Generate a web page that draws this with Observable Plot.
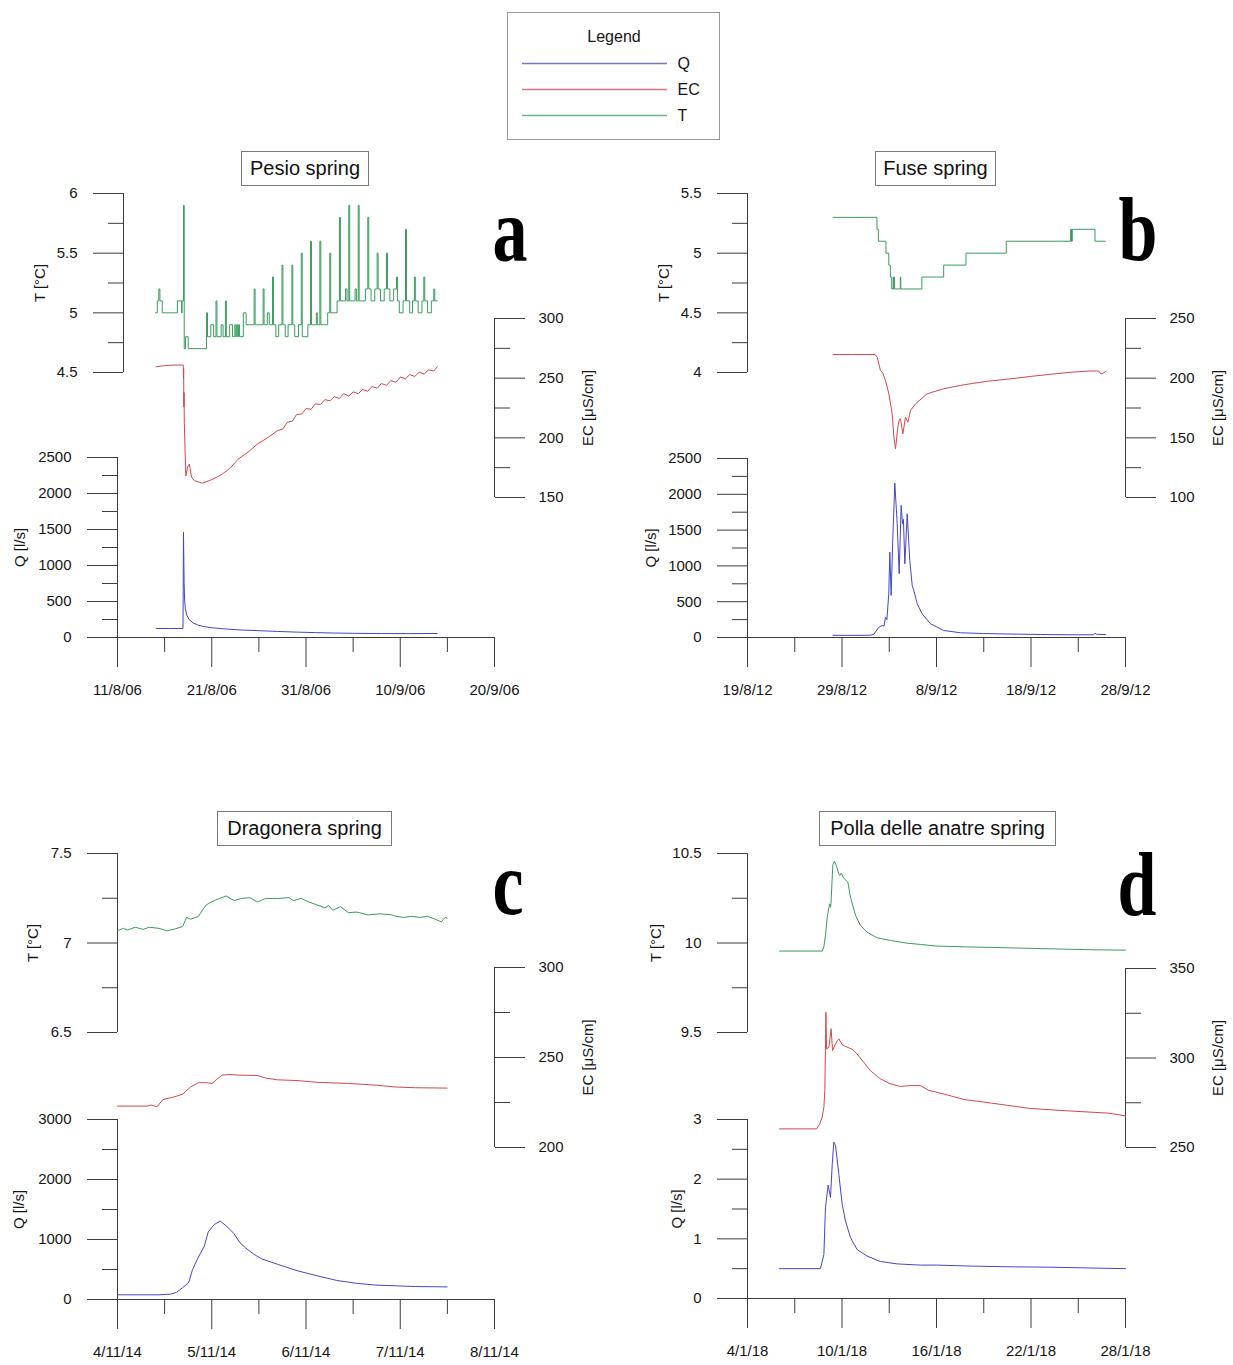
<!DOCTYPE html>
<html>
<head>
<meta charset="utf-8">
<script src="https://cdn.jsdelivr.net/npm/d3@7"></script>
<script src="https://cdn.jsdelivr.net/npm/@observablehq/plot@0.6"></script>
<style>
  body { margin: 0; background: #fff; font-family: "Liberation Sans", Arial, sans-serif; }
  #page { position: relative; width: 1233px; height: 1365px; overflow: hidden; background: #fff; }
  #page > svg { position: absolute; left: 0; top: 0; background: none; overflow: visible; pointer-events: none; }
  .title { position: absolute; box-sizing: border-box; border: 1px solid #7a7a7a; height: 35px;
           font-size: 20px; line-height: 33px; text-align: center; color: #111; white-space: nowrap; }
  .letter { position: absolute; width: 80px; text-align: center; color: #000;
            font: bold 70px/70px "Liberation Serif", "DejaVu Serif", serif;
            transform: scaleY(1.3); transform-origin: 50% 58.6px; }
  #legend { position: absolute; left: 507px; top: 12px; width: 213px; height: 128px;
            box-sizing: border-box; border: 1px solid #9a9a9a; background: #fff; z-index: 5; }
  #legend svg { display: block; background: none; }
</style>
</head>
<body>
<div id="page"></div>
<script>
// ---------------- DATA ----------------
// series: [days since first x tick, value]
const legendKeys = ["Q", "EC", "T"];

// a) Pesio spring
const pesioTicks = ["11/8/06", "21/8/06", "31/8/06", "10/9/06", "20/9/06"];
const pesioT = [[4.03,5.0],[4.22,5.1],[4.38,5.2],[4.5,5.1],[4.75,5.0],[6.35,5.1],[6.8,5.0],[6.85,5.1],[7.0,5.9],[7.08,4.7],[7.22,4.8],[7.5,4.7],
  [9.45,5.0],[9.55,4.8],[9.9,4.9],[10.2,4.8],[10.45,5.1],[10.55,4.8],[11.0,4.9],[11.2,4.8],[11.45,5.1],[11.55,4.8],[11.9,4.9],[12.2,4.8],
  [12.45,4.9],[12.55,4.8],[12.65,4.9],[12.75,4.8],[12.85,4.9],[12.95,4.8],[13.35,5.0],[13.65,4.9],[14.5,5.2],[14.6,4.9],[15.45,5.2],[15.55,4.9],
  [15.9,5.0],[16.1,4.9],[16.45,5.3],[16.55,4.9],[16.8,4.8],[17.1,4.9],[17.45,5.4],[17.55,4.9],[17.8,4.8],[18.1,4.9],[18.5,5.4],[18.6,4.9],
  [18.8,4.8],[19.2,4.9],[19.5,5.5],[19.6,4.8],[20.2,4.9],[20.48,5.6],[20.58,4.9],[21.1,5.0],[21.2,4.9],[21.47,5.6],[21.57,4.9],[22.3,5.0],
  [22.52,5.5],[22.62,5.0],[23.3,5.1],[23.55,5.8],[23.65,5.1],[24.2,5.2],[24.35,5.1],[24.54,5.9],[24.64,5.1],[25.2,5.2],[25.35,5.1],[25.54,5.9],
  [25.64,5.1],[26.3,5.2],[26.56,5.8],[26.66,5.2],[26.9,5.1],[27.3,5.2],[27.55,5.5],[27.65,5.2],[27.9,5.1],[28.3,5.2],[28.54,5.5],[28.64,5.2],
  [28.9,5.1],[29.3,5.2],[29.6,5.3],[29.7,5.1],[29.9,5.0],[30.3,5.1],[30.56,5.7],[30.66,5.1],[31.0,5.0],[31.3,5.1],[31.5,5.3],[31.6,5.1],
  [31.9,5.0],[32.3,5.1],[32.5,5.3],[32.6,5.1],[32.9,5.0],[33.3,5.1],[33.56,5.2],[33.66,5.1],[33.95,5.1]];
const pesioEC = [[4.1,259.5],[5.0,260.5],[6.0,261],[6.98,261],[7.0,250],[7.02,258],[7.04,226],[7.06,238],[7.09,212],[7.25,168],[7.45,176],
  [7.62,178],[7.85,167],[8.17,164],[9.0,162],[10.0,165],[11.0,169],[11.52,172],[12.0,175],[12.78,182],[13.5,186],[14.0,189],[14.87,195],
  [15.5,198],[16.0,200.5],[16.97,206],[17.55,207.5],[18.0,213],[18.55,214],[19.0,219.5],[19.55,220],[20.0,224.5],[20.55,224],[21.0,228.5],
  [21.55,228],[22.0,232],[22.55,231],[23.0,234.5],[23.55,233],[24.0,237],[24.55,235],[25.0,238.5],[25.55,237],[26.0,240.5],[26.55,239],
  [27.0,243],[27.55,241.5],[28.0,245.5],[28.55,244],[29.0,248],[29.55,246.5],[30.0,251],[30.55,249.5],[31.0,253],[31.55,251.5],[32.0,255],
  [32.55,253.5],[33.0,257],[33.55,256],[33.93,259.5]];
const pesioQ = [[4.1,125],[5.5,125],[6.95,126],[7.0,1460],[7.03,1150],[7.07,750],[7.12,520],[7.2,400],[7.35,310],[7.6,250],[8.0,205],
  [8.5,175],[9.0,155],[10.0,135],[11.5,118],[13.0,105],[15.0,95],[17.0,84],[19.0,75],[21.0,68],[23.0,62],[25.0,58],[28.0,55],[31.0,54],[33.93,56]];

// b) Fuse spring
const fuseTicks = ["19/8/12", "29/8/12", "8/9/12", "18/9/12", "28/9/12"];
const fuseT = [[9.06,5.3],[13.7,5.2],[13.85,5.1],[14.65,5.0],[14.95,4.9],[15.12,4.8],[15.26,4.7],[15.42,4.8],[15.46,4.7],[15.5,4.8],
  [15.54,4.7],[16.17,4.8],[16.22,4.7],[18.45,4.8],[20.76,4.9],[23.12,5.0],[27.38,5.1],[34.2,5.2],[34.24,5.1],[34.28,5.2],[34.32,5.1],
  [34.36,5.2],[36.77,5.1],[37.88,5.1]];
const fuseEC = [[9.06,219.8],[11.0,219.8],[13.5,219.8],[13.72,217.6],[14.07,206.4],[14.25,205],[14.35,203.6],[14.6,198],[14.96,186.9],
  [15.31,170.1],[15.5,150],[15.66,140.8],[15.91,158.9],[16.05,165],[16.19,166],[16.44,153.4],[16.72,167.3],[16.97,163.1],[17.25,172.9],
  [17.78,178.5],[19.0,186.9],[20.76,191.1],[22.52,193.9],[23.74,195.5],[25.5,197.5],[27.87,199.5],[30.0,201.5],[32.01,203.2],[34.0,204.8],
  [36.15,206],[37.18,206],[37.4,203.5],[37.6,204],[37.88,205.5]];
const fuseQ = [[9.06,30],[12.0,30],[13.0,32],[13.37,45],[13.9,144],[14.25,168],[14.45,160],[14.6,284],[14.75,250],[14.95,610],[15.06,1192],
  [15.2,587],[15.38,1401],[15.59,2156],[15.84,1588],[16.05,890],[16.26,1844],[16.4,1588],[16.5,1650],[16.65,1029],[16.9,1728],[17.17,1076],
  [17.43,726],[17.6,657],[17.96,471],[18.48,331],[19.37,191],[20.77,98],[22.54,66],[25.0,55],[28.0,48],[31.0,42],[34.0,38],[36.6,38],
  [36.77,60],[36.9,45],[37.88,40]];

// c) Dragonera spring
const dragoTicks = ["4/11/14", "5/11/14", "6/11/14", "7/11/14", "8/11/14"];
const dragoT = [[0,7.068],[0.063,7.082],[0.105,7.072],[0.188,7.088],[0.272,7.076],[0.335,7.088],[0.44,7.082],[0.524,7.068],[0.607,7.078],
  [0.691,7.092],[0.733,7.143],[0.775,7.133],[0.859,7.149],[0.901,7.183],[0.942,7.213],[1.026,7.237],[1.152,7.263],[1.236,7.237],[1.319,7.249],
  [1.403,7.253],[1.487,7.229],[1.571,7.249],[1.696,7.249],[1.822,7.253],[1.864,7.237],[1.948,7.249],[2.031,7.229],[2.115,7.213],[2.199,7.197],
  [2.241,7.209],[2.283,7.183],[2.366,7.203],[2.45,7.169],[2.534,7.173],[2.66,7.157],[2.785,7.163],[2.911,7.157],[2.953,7.149],[3.037,7.143],
  [3.12,7.149],[3.204,7.143],[3.288,7.149],[3.372,7.133],[3.435,7.118],[3.476,7.143],[3.497,7.139]];
const dragoEC = [[0,223],[0.314,223],[0.356,223.6],[0.419,222.6],[0.482,226.6],[0.607,228.2],[0.691,229.6],[0.775,233.6],[0.859,236],
  [0.942,236],[1.005,235.6],[1.047,237.6],[1.11,240.2],[1.194,240.6],[1.277,240.2],[1.487,240],[1.571,238.6],[1.696,237.6],[1.906,237.2],
  [2.115,236.2],[2.45,235.6],[2.743,234.6],[2.953,233.6],[3.162,233.2],[3.497,233]];
const dragoQ = [[0,78],[0.44,78],[0.565,90],[0.628,120],[0.691,198],[0.754,276],[0.796,498],[0.859,708],[0.921,888],[0.963,1128],[1.026,1248],
  [1.089,1308],[1.152,1230],[1.236,1098],[1.298,948],[1.361,858],[1.445,756],[1.529,678],[1.696,588],[1.906,480],[2.115,396],[2.325,318],
  [2.534,270],[2.743,240],[2.953,228],[3.162,216],[3.497,210]];

// d) Polla delle anatre spring
const pollaTicks = ["4/1/18", "10/1/18", "16/1/18", "22/1/18", "28/1/18"];
const pollaT = [[2.03,9.955],[4.76,9.955],[4.85,9.98],[4.95,10.04],[5.06,10.144],[5.15,10.19],[5.23,10.219],[5.27,10.2],[5.3,10.22],
  [5.42,10.44],[5.52,10.457],[5.65,10.43],[5.78,10.39],[5.86,10.377],[5.95,10.39],[6.1,10.365],[6.3,10.345],[6.37,10.34],[6.54,10.256],
  [6.86,10.154],[7.17,10.098],[7.6,10.06],[8.23,10.029],[9.08,10.014],[10.14,9.999],[10.98,9.992],[12.0,9.983],[14.0,9.978],[15.7,9.975],
  [18.0,9.97],[20.0,9.966],[22.0,9.962],[24.0,9.96]];
const pollaEC = [[2.03,260.4],[4.38,260.4],[4.59,263.2],[4.74,267],[4.85,272.5],[4.91,281.8],[4.98,325.6],[5.02,305.1],[5.17,306],
  [5.31,316.3],[5.4,304.2],[5.59,307.9],[5.8,310.7],[6.01,307.5],[6.2,306.5],[6.44,305.7],[6.7,304.5],[6.95,302.3],[7.37,297.7],[7.79,293],
  [8.43,288.4],[9.06,285.6],[9.7,284.1],[10.33,284.6],[10.98,284.6],[11.51,281.9],[12.5,279.8],[13.75,276.8],[15.48,274.8],[17.97,271.8],
  [20.45,270.4],[22.93,269.2],[24.0,267.7]];
const pollaQ = [[2.03,0.5],[4.63,0.5],[4.85,0.736],[4.95,1.52],[5.12,1.9],[5.27,1.69],[5.38,2.25],[5.48,2.62],[5.59,2.56],[5.8,2.08],
  [6.01,1.58],[6.22,1.3],[6.54,1.02],[6.96,0.82],[7.6,0.71],[8.44,0.62],[9.5,0.58],[10.98,0.56],[12.0,0.56],[14.24,0.543],[17.0,0.53],
  [19.2,0.525],[22.0,0.51],[24.0,0.5]];

// axis ticks
const pesioTMajor = [4.5, 5, 5.5, 6], pesioTMinor = [4.75, 5.25, 5.75];
const pesioECMajor = [150, 200, 250, 300], pesioECMinor = [175, 225, 275];
const pesioQMajor = [0, 500, 1000, 1500, 2000, 2500], pesioQMinor = [250, 750, 1250, 1750, 2250];
const fuseTMajor = [4, 4.5, 5, 5.5], fuseTMinor = [4.25, 4.75, 5.25];
const fuseECMajor = [100, 150, 200, 250], fuseECMinor = [125, 175, 225];
const fuseQMajor = [0, 500, 1000, 1500, 2000, 2500], fuseQMinor = [250, 750, 1250, 1750, 2250];
const dragoTMajor = [6.5, 7, 7.5], dragoTMinor = [6.75, 7.25];
const dragoECMajor = [200, 250, 300], dragoECMinor = [225, 275];
const dragoQMajor = [0, 1000, 2000, 3000], dragoQMinor = [500, 1500, 2500];
const pollaTMajor = [9.5, 10, 10.5], pollaTMinor = [9.75, 10.25];
const pollaECMajor = [250, 300, 350], pollaECMinor = [275, 325];
const pollaQMajor = [0, 1, 2, 3], pollaQMinor = [0.5, 1.5, 2.5];

// ---------------- STYLE / LAYOUT ----------------
const W = 1233, H = 1365, DAY = 864e5;
const COL = {Q: "#4646c6", EC: "#d04a4a", T: "#3a9c5c"};
const AX = "#3c3c3c", TX = "#151515";
const svgStyle = {background: "none", overflow: "visible", fontFamily: "'Liberation Sans', Arial, sans-serif", fontSize: "15px"};
const parseDMY = s => { const [d, m, y] = s.split("/").map(Number); return new Date(Date.UTC(2000 + y, m - 1, d)); };
const fmtDate = d3.utcFormat("%-d/%-m/%y");
const num = d => `${d}`;

const panels = [
  {title: "Pesio spring", letter: "a", ticks: pesioTicks, T: pesioT, EC: pesioEC, Q: pesioQ, tCurve: "step-after",
   tMaj: pesioTMajor, tMin: pesioTMinor, ecMaj: pesioECMajor, ecMin: pesioECMinor, qMaj: pesioQMajor, qMin: pesioQMinor,
   x0: 117, x1: 494, yT: [193, 372], yEC: [318, 497], yQ: [457, 637], tDx: 6, lab: {T: -77, Q: -97, EC: 94},
   box: [241, 151, 128], let: [510, 262]},
  {title: "Fuse spring", letter: "b", ticks: fuseTicks, T: fuseT, EC: fuseEC, Q: fuseQ, tCurve: "step-after",
   tMaj: fuseTMajor, tMin: fuseTMinor, ecMaj: fuseECMajor, ecMin: fuseECMinor, qMaj: fuseQMajor, qMin: fuseQMinor,
   x0: 747, x1: 1125, yT: [193, 372], yEC: [318, 497], yQ: [458, 637], tDx: 0, lab: {T: -83, Q: -96, EC: 93},
   box: [875, 151, 121], let: [1138, 261]},
  {title: "Dragonera spring", letter: "c", ticks: dragoTicks, T: dragoT, EC: dragoEC, Q: dragoQ, tCurve: "linear",
   tMaj: dragoTMajor, tMin: dragoTMinor, ecMaj: dragoECMajor, ecMin: dragoECMinor, qMaj: dragoQMajor, qMin: dragoQMinor,
   x0: 117, x1: 494, yT: [853, 1032], yEC: [967, 1147], yQ: [1119, 1299], tDx: 0, lab: {T: -84, Q: -98, EC: 94},
   box: [217, 811, 175], let: [508, 915]},
  {title: "Polla delle anatre spring", letter: "d", ticks: pollaTicks, T: pollaT, EC: pollaEC, Q: pollaQ, tCurve: "linear",
   tMaj: pollaTMajor, tMin: pollaTMinor, ecMaj: pollaECMajor, ecMin: pollaECMinor, qMaj: pollaQMajor, qMin: pollaQMinor,
   x0: 747, x1: 1125, yT: [853, 1032], yEC: [968, 1147], yQ: [1119, 1298], tDx: 0, lab: {T: -91, Q: -70, EC: 93},
   box: [819, 811, 237], let: [1137, 916]}
];

const page = document.getElementById("page");

function toRows(baseDate, pairs) {
  return pairs.map(([t, v]) => ({date: new Date(baseDate.getTime() + t * DAY), v}));
}

const labelOpts = {rotate: -90, textAnchor: "middle", lineAnchor: "middle", fill: TX};

function drawPanel(p) {
  const xt = p.ticks.map(parseDMY);
  const xMinor = xt.slice(1).map((d, i) => new Date((d.getTime() + xt[i].getTime()) / 2));
  const xdom = [xt[0], xt[xt.length - 1]];
  const base = {width: W, height: H, marginLeft: p.x0, marginRight: W - p.x1, style: svgStyle};
  const xNoAxis = {type: "utc", domain: xdom, axis: null, label: null};
  const tDom = [p.tMaj[0], p.tMaj[p.tMaj.length - 1]];
  const ecDom = [p.ecMaj[0], p.ecMaj[p.ecMaj.length - 1]];
  const qDom = [p.qMaj[0], p.qMaj[p.qMaj.length - 1]];

  // Temperature (left axis, top)
  page.appendChild(Plot.plot({
    ...base, marginTop: p.yT[0], marginBottom: H - p.yT[1],
    x: xNoAxis, y: {domain: tDom, label: null},
    marks: [
      Plot.ruleX([xdom[0]], {y1: tDom[0], y2: tDom[1], dx: p.tDx, stroke: AX}),
      Plot.axisY({ticks: p.tMaj, tickSize: 30, tickPadding: 16, dx: p.tDx, tickFormat: num, stroke: AX, fill: TX, label: null}),
      Plot.axisY({ticks: p.tMin, tickSize: 15, dx: p.tDx, stroke: AX, fill: "none", label: null}),
      Plot.line(toRows(xt[0], p.T), {x: "date", y: "v", stroke: COL.T, strokeWidth: 1, curve: p.tCurve}),
      Plot.text(["T [°C]"], {frameAnchor: "left", dx: p.lab.T, ...labelOpts})
    ]
  }));

  // Electrical conductivity (right axis, middle)
  page.appendChild(Plot.plot({
    ...base, marginTop: p.yEC[0], marginBottom: H - p.yEC[1],
    x: xNoAxis, y: {domain: ecDom, label: null},
    marks: [
      Plot.ruleX([xdom[1]], {y1: ecDom[0], y2: ecDom[1], stroke: AX}),
      Plot.axisY({anchor: "right", ticks: p.ecMaj, tickSize: 30, tickPadding: 14, tickFormat: num, stroke: AX, fill: TX, label: null}),
      Plot.axisY({anchor: "right", ticks: p.ecMin, tickSize: 15, stroke: AX, fill: "none", label: null}),
      Plot.line(toRows(xt[0], p.EC), {x: "date", y: "v", stroke: COL.EC, strokeWidth: 1}),
      Plot.text(["EC [μS/cm]"], {frameAnchor: "right", dx: p.lab.EC, ...labelOpts})
    ]
  }));

  // Discharge (left axis, bottom) with the date axis
  page.appendChild(Plot.plot({
    ...base, marginTop: p.yQ[0], marginBottom: H - p.yQ[1],
    x: {type: "utc", domain: xdom, label: null}, y: {domain: qDom, label: null},
    marks: [
      Plot.ruleX([xdom[0]], {y1: qDom[0], y2: qDom[1], stroke: AX}),
      Plot.ruleY([qDom[0]], {stroke: AX}),
      Plot.axisY({ticks: p.qMaj, tickSize: 30, tickPadding: 16, tickFormat: num, stroke: AX, fill: TX, label: null}),
      Plot.axisY({ticks: p.qMin, tickSize: 15, stroke: AX, fill: "none", label: null}),
      Plot.axisX({ticks: xt, tickSize: 30, tickPadding: 17, tickFormat: fmtDate, stroke: AX, fill: TX, label: null}),
      Plot.axisX({ticks: xMinor, tickSize: 15, stroke: AX, fill: "none", label: null}),
      Plot.line(toRows(xt[0], p.Q), {x: "date", y: "v", stroke: COL.Q, strokeWidth: 1}),
      Plot.text(["Q [l/s]"], {frameAnchor: "left", dx: p.lab.Q, ...labelOpts})
    ]
  }));

  const t = document.createElement("div");
  t.className = "title";
  t.textContent = p.title;
  t.style.left = p.box[0] + "px";
  t.style.top = p.box[1] + "px";
  t.style.width = p.box[2] + "px";
  page.appendChild(t);

  const l = document.createElement("div");
  l.className = "letter";
  l.textContent = p.letter;
  l.style.left = (p.let[0] - 40) + "px";
  l.style.top = (p.let[1] - 58.6) + "px";
  page.appendChild(l);
}

panels.forEach(drawPanel);

// Legend (appended last so it sits on top of the full-page layers)
const legend = document.createElement("div");
legend.id = "legend";
page.appendChild(legend);
legend.appendChild(Plot.plot({
  width: 211, height: 126, marginLeft: 14, marginRight: 52, marginTop: 49, marginBottom: 24,
  style: {background: "none", overflow: "visible", fontFamily: "'Liberation Sans', Arial, sans-serif", fontSize: "16px"},
  x: {domain: [0, 1], axis: null},
  y: {type: "point", domain: legendKeys, padding: 0, axis: null},
  marks: [
    ...legendKeys.map(k => Plot.ruleY([k], {stroke: COL[k], strokeWidth: 1.3, strokeOpacity: 0.75})),
    Plot.text(legendKeys, {y: d => d, frameAnchor: "right", dx: 10, textAnchor: "start", lineAnchor: "middle", fill: TX}),
    Plot.text(["Legend"], {frameAnchor: "top-left", dx: 91.5, dy: -26, textAnchor: "middle", lineAnchor: "middle", fill: TX})
  ]
}));
</script>
</body>
</html>
